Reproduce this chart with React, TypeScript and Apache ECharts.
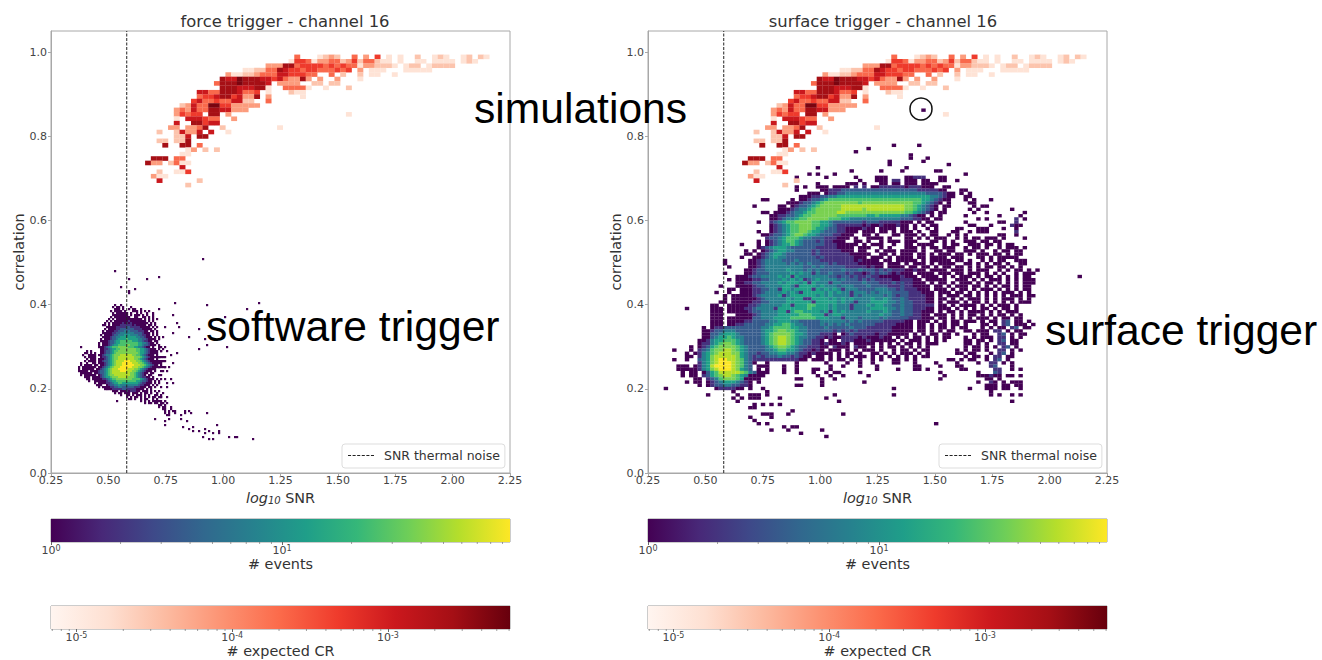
import React, { useEffect, useRef } from "react";
import * as echarts from "echarts";

const thermalNoise = 0.58;
const titles = ["force trigger - channel 16", "surface trigger - channel 16"];
const overlayLabels = ["simulations", "software trigger", "surface trigger"];
const viridisLevels = ["#440154", "#46327e", "#365c8d", "#277f8e", "#1fa187", "#4ac16d", "#7ad151", "#b5de2b", "#fde725"];
const redLevels = ["#fee3d6", "#fcc4ad", "#fc9c7d", "#f9694c", "#ee3a2c", "#ca181d", "#a60f15", "#7a0510"];
const viridisStops = ["#440154", "#482878", "#3e4989", "#31688e", "#26828e", "#1f9e89", "#35b779", "#6ece58", "#b5de2b", "#fde725"];
const redStops = ["#fff5f0", "#fee0d2", "#fcbba1", "#fc9272", "#fb6a4a", "#ef3b2c", "#cb181d", "#a50f15", "#67000d"];
const eventExtent = [1, 97];
const crExtent = [6.87e-6, 6.08e-3];
const eventMinor = [2, 3, 4, 5, 6, 7, 8, 9, 20, 30, 40, 50, 60, 70, 80, 90];
const crMinor = [7e-6, 8e-6, 9e-6, 2e-5, 3e-5, 4e-5, 5e-5, 6e-5, 7e-5, 8e-5, 9e-5, 2e-4, 3e-4, 4e-4, 5e-4, 6e-4, 7e-4, 8e-4, 9e-4, 2e-3, 3e-3, 4e-3, 5e-3, 6e-3];

// red histogram: bin origin, bin size, and per row "column:levels"
const redBins = { x0: 0.66, dx: 0.025, yTop: 0.994, dy: 0.0105 };
const redRows = [
  "0|26:4 30:1232 36:4 38:3 40:5 42:1 44:1 47:2 50:121 55:12 58:21",
  "1|25:155 28:4 29:1 30:3344 34:2 35:35 37:2 38:44 40:2 41:11 44:1 47:11 50:111 53:1 55:12 57:1",
  "2|21:333 24:776 26:4 27:5555 31:4545 35:44 37:1 38:33 40:22 42:2 43:1 45:1 46:2 47:2 49:1 50:2222",
  "3|17:1122 21:445 23:7 24:6 25:55 27:4 28:55 30:4 31:44 33:5 34:45 37:3 39:1 40:11 45:11 47:11 49:1",
  "4|14:3 15:112 18:22 19:34 21:44 23:66 25:55 27:5 28:44 32:4 34:2 37:2 39:1 40:1 43:1",
  "5|13:7 14:66 16:8 17:77 19:7 20:66 22:5 23:6 24:4 25:33 27:7 28:3 30:3 33:3 37:1",
  "6|12:4 13:7 14:77 16:8 17:777 20:7 21:6 23:3 24:333 29:2 30:2 32:22",
  "7|13:7 14:77 16:666 19:7 20:7 21:1 24:4 25:444 28:1 31:1 35:2",
  "8|9:66 11:4 12:4 13:77 15:7 16:6 17:4 18:4 19:5 21:1 25:2 26:11",
  "9|9:4 10:55 12:6 13:77 15:5 16:6 17:33 19:7 21:3 27:1",
  "10|8:5 9:6 10:44 12:5 13:44 15:66 17:22 21:4",
  "11|6:23 8:6 9:44 11:88 13:5 14:5 15:33333",
  "12|5:343 8:6 9:44 11:77 13:66 15:333",
  "13|5:3 6:5 7:4 8:55 11:77 14:3 35:1",
  "14|5:1 7:666 10:5 11:44 15:3",
  "15|5:6 8:77 10:5 11:66",
  "16|4:33 7:33 9:4 10:7 13:2 23:1",
  "17|2:2 5:2 6:6 7:33 9:6 11:6 14:1",
  "18|5:22 7:6 9:77",
  "19|2:22 5:22 7:7",
  "20|3:7 6:77 9:4",
  "21|7:1 8:3 10:2 12:2",
  "22|6:11",
  "23|1:777 5:4 6:4",
  "24|0:7 1:33 4:2 5:4 6:11",
  "25|6:6",
  "26|2:2 5:11 7:5",
  "27|1:3 2:1 3:1",
  "28|2:6 9:2",
  "29|7:2",
];

// event histogram of the software trigger panel: isolated events
const softBins = { x0: 0.3676, dx: 0.008715, yTop: 0.4347, dy: 0.00475 };
const softOuterRows = [
  "-16|62:1", "-10|18:1", "-7|40:1", "-6|34:1 25:1", "-2|21:1", "-1|28:1", "0|25:1", "1|25:1",
  "6|90:1 48:1", "7|64:1", "9|40:1 84:1", "12|47:1", "13|73:1", "16|49:1", "18|50:1 43:1", "19|60:1", "21|47:1",
  "23|55:1", "24|63:1", "27|64:1", "28|74:1 40:11 43:1", "29|60:1", "30|41:1 44:1", "31|49:1", "32|46:1", "33|40:111 43:1", "35|41:111", "36|47:1",
  "38|40:1 42:11 45:1", "40|41:11 44:1", "42|40:11", "44|41:1 43:1 46:1", "46|40:1 44:1 47:1",
  "48|41:1 44:1", "51|36:1 39:1 42:1", "53|41:1 44:1", "55|19:1 37:1 40:1 43:1", "56|39:1 42:1 44:1", "57|40:11 43:1", "58|40:1 42:11 46:1", "59|42:11 46:1",
  "60|43:1.1.1 48:1 53:1.1", "61|43:1.1 48:1 53:1 56:1 64:1", "62|44:11 51:1", "64|38:1 45:1 51:1", "65|43:1 54:1",
  "67|43:1 69:1", "68|52:1 57:1", "69|55:1 63:1", "70|57:1 60:1 65:1 70:1", "71|63:1 67:1 70:1", "73|62:1 75:1 78:11", "74|65:1 67:1 87:1",
];
// the dense core of that panel
const softCoreBins = { x0: 0.3676, dx: 0.008715, yTop: 0.42045, dy: 0.00475 };
const softCoreRows = [
  "4|18:1..1", "5|17:1.11.1...1", "6|18:111.1..1.11..1", "7|16:1.1111.1...111.1.1.1",
  "8|17:1.111111.1..1.1..1..1", "9|17:11111111.1.111.1.1..1", "10|16:1.11111111..11..11.1.1",
  "11|15:1.1.1111111111111.1.1.1.1", "12|14:1.1.1111111211111111.1.1", "13|13:1.1.111112121211111111.1.1",
  "14|12:11.1.11112222221211111.11.1", "15|14:1111122222332222211111.1.1", "16|13:1.1111223333333222211111.1",
  "17|12:1.111122333434333322211.11.1", "18|12:111112233444444433332111.1.1", "19|11:1.11112334445454444332211.1.1",
  "20|12:1111233445555555544332111.1.1.1", "21|11:1.11123345555655555443321111.1", "22|11:11112334556666665554432211.11",
  "23|10:1.11123345566666666655443211.1", "24|10:1.111234556666776666554332111.1",
  "25|1:1 10:11123456667777766655443211.1", "26|11:1122345566777777776655432111.1.1",
  "27|4:1.1 11:11233456677777777766554321111.1", "28|3:11.1.1 11:11233456777777777776554321111",
  "29|2:1..1111.1123445677788888877665432111.1", "30|3:1.1111..122345677888888887776543211111",
  "31|4:1.111.1112345677888888887765432111.1", "32|3:1.1111.11233456788889998887765432111111",
  "33|1:1..1..11.11123456788899999888776543211111", "34|1:1.1111.11.11234567888999999888776543211.1",
  "35|0:1.1111111.11234567888999999888776543211111.1", "36|0:1.111111.112345678889999988877654321111",
  "37|0:11111.1111233456788889998887765432111.1", "38|1:111111.112334567888888888776543211.11",
  "39|1:1.111111.123456778888888877654321.11", "40|3:111.11112345567778888877765432211.1",
  "41|4:11.1111122345667777777766665432111.1", "42|5:1..11111123455666666666655433211.1.1",
  "43|8:1.111122345566555555554322111.1", "44|9:111..1233445444444444322111.1.1",
  "45|10:1.1111223344333333222111.11.1", "46|13:11112222233222221111.1.1",
  "47|17:111.1112122211.111.1.1.1", "48|18:1.11.111.111.1.11.1..1", "49|21:1..11.1.111.1.1..11.1",
  "50|24:1.1.11.1.1.1.11.11", "51|25:11.1..1.11..1.1", "52|31:1.1.1..11.1.1", "53|33:1.11.1..11",
];

// event histogram of the surface trigger panel
const surfBins = { x0: 0.3, dx: 0.0184, yTop: 0.79, dy: 0.0076 };
const surfRows = [
  "-10|62:1",
  "1|55:1 61:1", "2|49:1", "3|46:1", "4|59:1", "5|59:1 63:1", "6|54:1 62:1", "7|54:1 68:1", "8|37:1 58:1",
  "9|45:1 52:1 57:1 65:11", "10|35:1 37:1 41:1 72:1", "11|32:1 39:1 46:1 51:1 52:11 58:11222 66:11",
  "12|47:1 51:111 55:22 58:111 62:11 66:11 70:1", "13|37:1 44:11 46:1 48:1 52:11 55:11 58:111 62:111 65:1",
  "14|32:1 34:1 37:11 39:1 41:11 43:1 44:1 46:2 48:2 50:11 52:222 55:222 58:1 59:222 62:111 64:1 67:11",
  "15|32:1 38:112223333333333333333332222211 71:11",
  "16|35:111.1223344444444444444444443333211 71:1.1",
  "17|33:1112233445555555555555555555555443211 72:11",
  "18|24:11 31:1.112334566666666666666666666665543211 72:1.1 78:1",
  "19|30:1112334567777777767777777777776654321.1 73:11",
  "20|22:1 28:11.12334567777788888888888888877654321.11 74:1 76:11",
  "21|28:11123445677777788888788888888877654321.1 73:1.1 83:1",
  "22|24:11 27:11123445667777788777777777777776654321.11 74:1 77:1 86:1",
  "23|26:1122334566777777666666655655555443211.1.1 72:1 80:1 85:1",
  "24|26:11234456677777666554444444444443332211.11 75:1.1 84:2 86:1",
  "25|23:1 26:2345667777665543333333233322222111.1.11 72:1 80:11 84:2",
  "26|26:123456677766554322222212112111211.1.1.11 73:11 78:1 83:21 85:1",
  "27|26:1234566777655433221111211.1111.11.1..1.1 70:11 75:111 81:1 84:1",
  "28|23:1 26:123456677655433322111.111.11.1.111.1..11 69:11 73:1.111 84:2",
  "29|24:1123345677655433322111..11.1...11.111.1.11 68:1.1.1 80:11 84:1",
  "30|25:23345666544333222111.1..1111.1...11.1.1.111..1.1 74:11.111.1 86:1",
  "31|23:1.1234566543332322111..11.1..1.111.111...11.1.1..11 74:1.11.11",
  "32|19:1 23:1 25:1234556543333322211111.1.111..1..11.1111..1.11..111.1 78:1.1.11",
  "33|23:12345554333333222221111.111..1.1...111.1.11.111..1.11.1..1.111 86:1",
  "34|20:1.1.1234554433332322222111.11..1.111.1111.1..11.11..111.1..1.1 82:1.11",
  "35|20:11.123455433333323222222211111..11.1.111.11.1.111.11.1.111 79:11.1.11",
  "36|19:1..112345443333333232222222111.111.1.1111.11.1111.111...11.1.11 82:111",
  "37|15:1.....1123444433343333322222222121111.11.11111.1.11111.11.1..1.1.11 84:111",
  "38|15:1.....11234444434343433332322222111111.111.1.111.1.1111..11.1.1.11.1 85:11",
  "39|16:1....11234444444443343433333222221211.1111.11.11.1.11.11.1.1.11.11.1 85:1",
  "40|20:1123344444544434343333343334333232322211211.1111.111.1.111..1.1.11.1.1",
  "41|15:1 20:1123334444454544243343332322123233212111.1111.111.11.111.1.1.1..1.111",
  "42|18:1112334444545254444444332332322322111112111.1111.1.1.111.1.11.1.1.1.11 99:1",
  "43|16:1.111122334445454523454444343332323222211211 57:222 60:11.11111..111.1.1.111.1.1.111",
  "44|18:1122334444545554525444244333334333222321 57:322 60:111.1.11.1.111.1.11.1.1.1.111",
  "45|14:1...1111233444455425555454443444333433332222 57:322 60:1111.11.1.111.11.1.1.11.1.11",
  "46|16:11.111223344255455552545454244433334443323222 57:322 60:2111.111.1.11.1.111.1.1.1.11",
  "47|13:1..1..111223444454542555554545442444343444333222 57:332 60:22111.111.11.1.1.1.1.111.1.1",
  "48|15:1.111112344445245555554545444424344444343232 57:332 60:22211.1.111.11.1.1.1.1.111.11",
  "49|15:1.111111234444454552255554545454444544543332 57:432 60:22211.11.1.1.111.1.1.111.1.1",
  "50|14:11.111112233444455555525555545442444555544333 57:433 60:22211.1.111.1.11.1.1.1.1.111",
  "51|12:11..11111223444445525556655545444244454554433333 57:433 60:22222.11.1.1111.1.1.111.1",
  "52|6:1 12:111.1111223444425555555655554544424444555544333 57:433 60:22211.111.1.1.1.11.1.11.1",
  "53|12:111.11111233444455256655554525454444454445433322 57:433 60:22111.1.11.1.1111.1.1.111",
  "54|12:111...11112344445555566655524554444444445443333 57:433 60:2211.111.1.1.11.1.1.11.1.1",
  "55|12:111.11111133444555566666655544424443444434333222 57:332 60:22111.11.1.1.1.111.1.11.11",
  "56|12:111.1111223333445554433333 38:4444443434333332222211.111.1.1.11.111.1 76:1.11.23.11.1",
  "57|12:111.1122333334455665443333 38:4343434333333222221111.11.1.11.11.1 76:11.1.23.111.1",
  "58|10:1.12233333333344566665544333 38:3433333433322222211111.11.1.11.1.11 76:1.1.11.23.11",
  "59|10:1123344433333345567766544333 38:3332323232222222211111.11.1.1.11 72:11.111.22.1.11",
  "60|10:1133455543333345677776554333 38:2221.1232222212211111.1.1.11.11.1 74:1.11..23.1.11",
  "61|10:1134556544333345678876544332 38:21211222212111211.1.1.11.1.1.11 72:1.1.111.22.1.1",
  "62|9:11245566654333345678876543322 38:1.11.2221112111111.1.111.1.1.1 72:11.11.1.23.11",
  "63|9:122 12:45677654333345678876543322 38:1211121.11111.1.1.1.11.1.111 72:11.1.1..22.11",
  "64|7:1 9:123 12:56777765433334567765433222 38:11.2111.211.1.1.11.1.1.1.1 72:1.11.1.1.23.1",
  "65|3:1 7:1 9:234 12:67788765433334456655432212 38:1.111.1.1.111.1..1.11.1.11 70:1.1.11.1..22.1.1",
  "66|6:1.1 9:245 12:67888775433233445544322121 38:111.1.11.1..11.1.1.111.1.1 70:11.11...1.23.1",
  "67|6:11 9:245 12:788888754323233343323211.1 38:1.1.1.1.111.1.1.1.1.1.1.11 72:1.11.1.22.11",
  "68|3:1 6:1 9:345 12:78998876432222222222211.11 38:1.1.11.1.1..1.1..11.1.1 68:11.1.11..1.23.1",
  "69|9:2457899987643 22:1 25:1 32:1 39:1 44:1 47:1 50:1 55:11 60:1 65:1 70:1 75:1..22.1.1",
  "70|4:111.1 9:2458999987643 23:11 25:1 29:1 32:1 40:1 43:1 47:1 51:1 60:11 66:1 70:11 78:23 83:1",
  "71|4:1111 8:1 9:2457899987543 23:1 25:1 29:1 32:1 36:11 40:1 51:1 56:1 60:11 63:1 71:11 79:22 83:1 85:1",
  "72|5:1.11 10:1356888887643 23:111 29:1 32:1 36:1 39:1 41:11 47:1 66:1 75:1 79:32",
  "73|5:1 7:11 10:23567887654 21:1111 37:1 40:1 43:1 49:1 67:1 75:11 77:1211 82:11 85:1",
  "74|8:11 11:234677765 20:1 21:111 32:11 38:1 41:1 66:1 77:11 80:1",
  "75|6:1 8:11 11:1234555432 21:1 23:1 38:1 48:1 75:1 78:21 81:1 83:111",
  "76|9:1 11:1233443322 21:1 32:11 38:1 77:111 81:11 84:11",
  "77|1:1 13:1222211 21:1 24:1 55:1 73:1 77:111 81:11 85:1",
  "78|17:1 25:1 78:1",
  "79|11:1 18:1 21:111 25:1 41:1 55:1 78:1 80:1 83:1 85:1",
  "80|17:1 19:1 21:111 28:1 39:1",
  "81|18:1 42:1 83:1",
  "82|22:1 24:1 26:1 28:1",
  "83|21:11",
  "84|31:1",
  "85|24:111 30:1 43:1",
  "86|21:1 26:1",
  "87|22:1",
  "88|23:1 25:1 65:1",
  "89|29:1 31:11",
  "90|26:1 30:1 38:1",
  "91|33:1",
  "92|39:1",
];

type Bins = { x0: number; dx: number; yTop: number; dy: number };
function decodeRows(rows: string[], b: Bins) {
  const out: number[][] = [];
  rows.forEach((line) => {
    const [rowText, spans] = line.split("|");
    const row = Number(rowText);
    spans.split(" ").forEach((span) => {
      const [colText, levels] = span.split(":");
      const col = Number(colText);
      levels.split("").forEach((ch, i) => {
        if (ch === ".") return;
        const x = b.x0 + (col + i) * b.dx;
        const yHigh = b.yTop - row * b.dy;
        out.push([x, yHigh - b.dy, x + b.dx, yHigh, Number(ch)]);
      });
    });
  });
  return out;
}

function cellSeries(gridIndex: number, rows: string[], bins: Bins, palette: string[]) {
  return {
    type: "custom",
    xAxisIndex: gridIndex,
    yAxisIndex: gridIndex,
    silent: true,
    progressive: 0,
    clip: true,
    encode: { x: [0, 2], y: [1, 3] },
    data: decodeRows(rows, bins),
    renderItem: (_: any, api: any) => {
      const a = api.coord([api.value(0), api.value(3)]);
      const b = api.coord([api.value(2), api.value(1)]);
      return {
        type: "rect",
        shape: { x: a[0], y: a[1], width: b[0] - a[0] + 0.2, height: b[1] - a[1] + 0.2 },
        style: { fill: palette[api.value(4) - 1] },
      };
    },
  };
}

function barSeries(gridIndex: number, extent: number[], stops: string[]) {
  return {
    type: "custom",
    xAxisIndex: gridIndex,
    yAxisIndex: gridIndex,
    silent: true,
    clip: false,
    data: [[extent[0], extent[1]]],
    encode: { x: [0, 1] },
    renderItem: (_: any, api: any) => {
      const a = api.coord([api.value(0), 1]);
      const b = api.coord([api.value(1), 0]);
      return {
        type: "rect",
        shape: { x: a[0], y: a[1], width: b[0] - a[0], height: b[1] - a[1] },
        style: {
          fill: new echarts.graphic.LinearGradient(0, 0, 1, 0, stops.map((color, i) => ({ offset: i / (stops.length - 1), color }))),
        },
      };
    },
  };
}

function minorSeries(gridIndex: number, values: number[]) {
  return {
    type: "custom",
    xAxisIndex: gridIndex,
    yAxisIndex: gridIndex,
    silent: true,
    clip: false,
    data: values.map((v) => [v]),
    encode: { x: 0 },
    renderItem: (_: any, api: any) => {
      const a = api.coord([api.value(0), 0]);
      return {
        type: "line",
        shape: { x1: a[0], y1: a[1], x2: a[0], y2: a[1] + 2 },
        style: { stroke: "#777", lineWidth: 0.7 },
      };
    },
  };
}

const TICK = "#444";
const FRAME = "#a8a8a8";
const FONT = "DejaVu Sans";

const superRich = {
  b: { fontFamily: FONT, fontSize: 11, color: TICK },
  s: { fontFamily: FONT, fontSize: 8, color: TICK, verticalAlign: "bottom", padding: [0, 0, 5, 0] },
};

function plotAxes(left: boolean) {
  return {
    x: {
      type: "value",
      gridIndex: left ? 0 : 1,
      min: 0.25,
      max: 2.25,
      interval: 0.25,
      splitLine: { show: false },
      axisLine: { onZero: false, lineStyle: { color: FRAME } },
      axisTick: { length: 3, lineStyle: { color: FRAME } },
      axisLabel: { margin: 2, fontFamily: FONT, fontSize: 11, color: TICK, formatter: (v: number) => v.toFixed(2) },
      name: "{i|log}{n|10} SNR",
      nameLocation: "middle",
      nameGap: 15,
      nameTextStyle: {
        fontFamily: FONT,
        fontSize: 14.4,
        color: "#333",
        rich: {
          i: { fontFamily: FONT, fontSize: 14.4, fontStyle: "italic", color: "#333" },
          n: { fontFamily: FONT, fontSize: 10, fontStyle: "italic", color: "#333", verticalAlign: "top", padding: [6, 0, 0, 0] },
        },
      },
    },
    y: {
      type: "value",
      gridIndex: left ? 0 : 1,
      min: 0,
      max: 1.05,
      interval: 0.2,
      splitLine: { show: false },
      axisLine: { onZero: false, lineStyle: { color: FRAME } },
      axisTick: { length: 3, lineStyle: { color: FRAME } },
      axisLabel: { margin: 4, fontFamily: FONT, fontSize: 11, color: TICK, showMaxLabel: false, formatter: (v: number) => v.toFixed(1) },
      name: "correlation",
      nameLocation: "middle",
      nameGap: 22,
      nameTextStyle: { fontFamily: FONT, fontSize: 14.4, color: "#333" },
    },
  };
}

function barAxes(gridIndex: number, extent: number[], name: string, gap: number) {
  return {
    x: {
      type: "log",
      gridIndex,
      min: extent[0],
      max: extent[1],
      logBase: 10,
      splitLine: { show: false },
      axisLine: { show: false },
      axisTick: { length: 3, lineStyle: { color: "#666" } },
      axisLabel: {
        margin: 2,
        showMaxLabel: false,
        showMinLabel: extent[0] === 1,
        formatter: (v: number) => `{b|10}{s|${Math.round(Math.log10(v))}}`,
        rich: superRich,
      },
      name,
      nameLocation: "middle",
      nameGap: gap,
      nameTextStyle: { fontFamily: FONT, fontSize: 14.4, color: "#333" },
    },
    y: { type: "value", gridIndex, min: 0, max: 1, show: false },
  };
}

function lineSeries(i: number) {
  return {
    type: "line",
    name: "SNR thermal noise",
    xAxisIndex: i,
    yAxisIndex: i,
    symbol: "none",
    silent: true,
    data: [[thermalNoise, 0], [thermalNoise, 1.05]],
    lineStyle: { color: "#222", width: 1, type: [3, 1.5] },
    itemStyle: { color: "#222" },
    z: 5,
  };
}

function legendAt(left: number) {
  return {
    left,
    top: 444,
    orient: "horizontal",
    selectedMode: false,
    data: [{ name: "SNR thermal noise", icon: "path://M0 0H3V1H0Z M4.5 0H7.5V1H4.5Z M9 0H12V1H9Z M13.5 0H16.5V1H13.5Z M18 0H21V1H18Z M22.5 0H25.5V1H22.5Z" }],
    backgroundColor: "#fff",
    borderColor: "#ddd",
    borderWidth: 1,
    borderRadius: 3,
    padding: [5, 5, 6, 6],
    itemWidth: 26,
    itemHeight: 1.2,
    itemGap: 8,
    textStyle: { fontFamily: FONT, fontSize: 12.5, color: "#333", padding: [0, 0, 0, 5] },
    z: 6,
  };
}

export default function App() {
  const ref = useRef<HTMLDivElement>(null);
  useEffect(() => {
    const chart = echarts.init(ref.current!, undefined, { renderer: "svg" });
    const pA = plotAxes(true);
    const pB = plotAxes(false);
    const barL1 = barAxes(2, eventExtent, "# events", 15);
    const barR1 = barAxes(3, eventExtent, "# events", 15);
    const barL2 = barAxes(4, crExtent, "# expected CR", 14);
    const barR2 = barAxes(5, crExtent, "# expected CR", 14);
    const big = (text: string, x: number, y: number) => ({
      type: "text",
      x,
      y,
      z: 50,
      style: { text, fontFamily: "Liberation Sans", fontSize: 42.6, fill: "#000", textVerticalAlign: "middle" },
    });
    const gridBase = { show: true, backgroundColor: "transparent", outerBoundsMode: "none" };
    chart.setOption({
      animation: false,
      backgroundColor: "#fff",
      title: [
        { text: titles[0], left: 280, top: 8, textAlign: "center", textStyle: { fontFamily: FONT, fontSize: 16.4, fontWeight: "normal", color: "#333" } },
        { text: titles[1], left: 878, top: 8, textAlign: "center", textStyle: { fontFamily: FONT, fontSize: 16.4, fontWeight: "normal", color: "#333" } },
      ],
      legend: [legendAt(342), legendAt(939)],
      grid: [
        { ...gridBase, left: 51, top: 31, width: 459, height: 442, borderColor: FRAME },
        { ...gridBase, left: 648, top: 31, width: 459, height: 442, borderColor: FRAME },
        { ...gridBase, left: 51, top: 519, width: 459, height: 23, borderColor: "#999" },
        { ...gridBase, left: 648, top: 519, width: 459, height: 23, borderColor: "#999" },
        { ...gridBase, left: 51, top: 606, width: 459, height: 23, borderColor: "#999" },
        { ...gridBase, left: 648, top: 606, width: 459, height: 23, borderColor: "#999" },
      ],
      xAxis: [pA.x, pB.x, barL1.x, barR1.x, barL2.x, barR2.x],
      yAxis: [pA.y, pB.y, barL1.y, barR1.y, barL2.y, barR2.y],
      series: [
        cellSeries(0, softOuterRows, softBins, viridisLevels),
        cellSeries(0, softCoreRows, softCoreBins, viridisLevels),
        cellSeries(0, redRows, redBins, redLevels),
        cellSeries(1, surfRows, surfBins, viridisLevels),
        cellSeries(1, redRows, redBins, redLevels),
        lineSeries(0),
        lineSeries(1),
        barSeries(2, eventExtent, viridisStops),
        barSeries(3, eventExtent, viridisStops),
        barSeries(4, crExtent, redStops),
        barSeries(5, crExtent, redStops),
        minorSeries(2, eventMinor),
        minorSeries(3, eventMinor),
        minorSeries(4, crMinor),
        minorSeries(5, crMinor),
      ],
      graphic: [
        big(overlayLabels[0], 474, 108),
        big(overlayLabels[1], 206, 326),
        big(overlayLabels[2], 1045, 330),
        { type: "circle", z: 50, shape: { cx: 921, cy: 109, r: 11 }, style: { fill: "none", stroke: "#111", lineWidth: 1.5 } },
      ],
    });
    return () => chart.dispose();
  }, []);
  return <div ref={ref} style={{ position: "absolute", left: 0, top: 0, width: 1322, height: 660 }} />;
}
